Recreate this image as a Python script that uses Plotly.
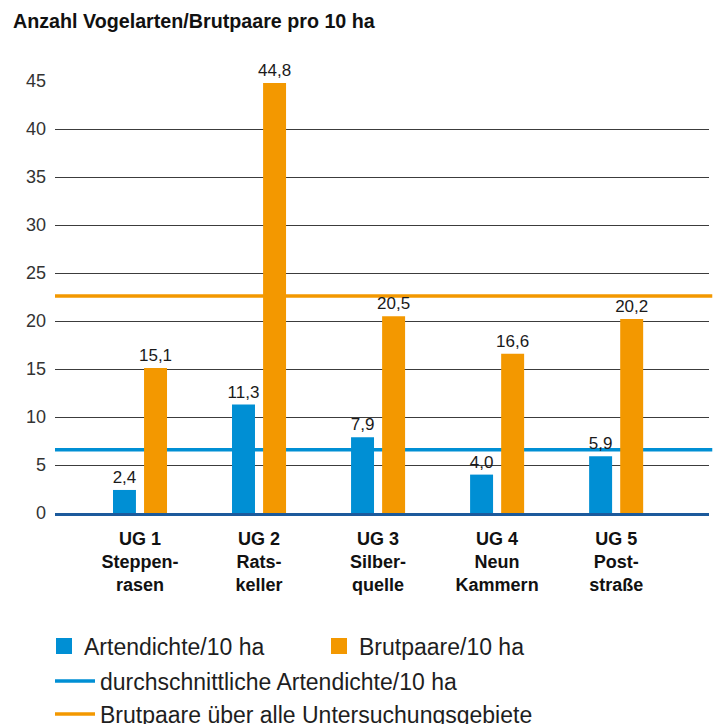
import plotly.graph_objects as go

# Untersuchungsgebiete (UG) und Messwerte je 10 ha
gebiete = [
    "UG 1<br>Steppen-<br>rasen",
    "UG 2<br>Rats-<br>keller",
    "UG 3<br>Silber-<br>quelle",
    "UG 4<br>Neun<br>Kammern",
    "UG 5<br>Post-<br>straße",
]
artendichte = [2.4, 11.3, 7.9, 4.0, 5.9]
brutpaare = [15.1, 44.8, 20.5, 16.6, 20.2]

# Referenzlinien
mittel_artendichte = 6.6
mittel_brutpaare = 22.6

y_ticks = [0, 5, 10, 15, 20, 25, 30, 35, 40, 45]

BLUE = "#008fd4"
ORANGE = "#f39800"
AXIS_BLUE = "#1c5a9c"
FONT = "Liberation Sans, Arial, sans-serif"

pos = list(range(len(gebiete)))

fig = go.Figure()

label_font = dict(family=FONT, size=17, color="#1a1a1a")

fig.add_bar(
    x=pos, y=artendichte, width=0.193, offset=-0.227,
    marker=dict(color=BLUE, line=dict(width=0)),
    texttemplate="%{y:.1f}", textposition="outside", textfont=label_font,
    constraintext="none", cliponaxis=False, showlegend=False,
    name="Artendichte/10 ha",
)
fig.add_bar(
    x=pos, y=brutpaare, width=0.193, offset=0.034,
    marker=dict(color=ORANGE, line=dict(width=0)),
    texttemplate="%{y:.1f}", textposition="outside", textfont=label_font,
    constraintext="none", cliponaxis=False, showlegend=False,
    name="Brutpaare/10 ha",
)

# Legendeneinträge für die Balken (quadratische Symbole)
fig.add_scatter(
    x=[None], y=[None], mode="markers", name="Artendichte/10 ha",
    marker=dict(symbol="square", size=17, color=BLUE), legend="legend",
)
fig.add_scatter(
    x=[None], y=[None], mode="markers", name="Brutpaare/10 ha",
    marker=dict(symbol="square", size=17, color=ORANGE), legend="legend",
)

# Horizontale Durchschnittslinien
fig.add_shape(
    type="line", xref="paper", x0=0, x1=1.005,
    y0=mittel_artendichte, y1=mittel_artendichte,
    line=dict(color=BLUE, width=3.5), layer="between",
    showlegend=True, legend="legend2",
    name="durchschnittliche Artendichte/10 ha",
)
fig.add_shape(
    type="line", xref="paper", x0=0, x1=1.005,
    y0=mittel_brutpaare, y1=mittel_brutpaare,
    line=dict(color=ORANGE, width=3.5), layer="between",
    showlegend=True, legend="legend3",
    name="Brutpaare über alle Untersuchungsgebiete",
)

legend_font = dict(family=FONT, size=23, color="#1e1e1e")
common_legend = dict(
    xref="container", yref="container", xanchor="left", yanchor="middle",
    font=legend_font, bgcolor="rgba(0,0,0,0)", borderwidth=0,
    itemsizing="trace", itemclick=False, itemdoubleclick=False,
)

fig.update_layout(
    width=716, height=724,
    margin=dict(l=55, r=7, t=81, b=211, pad=0, autoexpand=False),
    paper_bgcolor="white", plot_bgcolor="white",
    separators=", ",
    font=dict(family=FONT, color="#1a1a1a"),
    title=dict(
        text="<b>Anzahl Vogelarten/Brutpaare pro 10 ha</b>",
        font=dict(family=FONT, size=19.7, color="#111"),
        xref="container", yref="container",
        x=13 / 716, xanchor="left", y=1 - 21 / 724, yanchor="middle",
    ),
    barmode="overlay",
    legend=dict(common_legend, orientation="h", x=44 / 716, y=1 - 646 / 724,
                entrywidth=230, entrywidthmode="pixels"),
    legend2=dict(common_legend, x=50 / 716, y=1 - 681 / 724, itemwidth=40),
    legend3=dict(common_legend, x=50 / 716, y=1 - 714 / 724, itemwidth=40),
    xaxis=dict(
        range=[-0.714, 4.78], tickvals=pos, ticktext=gebiete,
        tickfont=dict(family=FONT, size=18, color="#111", weight="bold"),
        showgrid=False, zeroline=False,
        showline=True, linecolor=AXIS_BLUE, linewidth=3,
        ticks="", ticklabelstandoff=7, fixedrange=True, tickangle=0,
    ),
    yaxis=dict(
        range=[0, 45], tickvals=y_ticks,
        tickfont=dict(family=FONT, size=18, color="#333"),
        showgrid=True, gridcolor="#3c3c3c", gridwidth=1,
        zeroline=False, showline=False, ticks="",
        ticklabelstandoff=8, fixedrange=True,
    ),
)

fig.write_html("out.html")
